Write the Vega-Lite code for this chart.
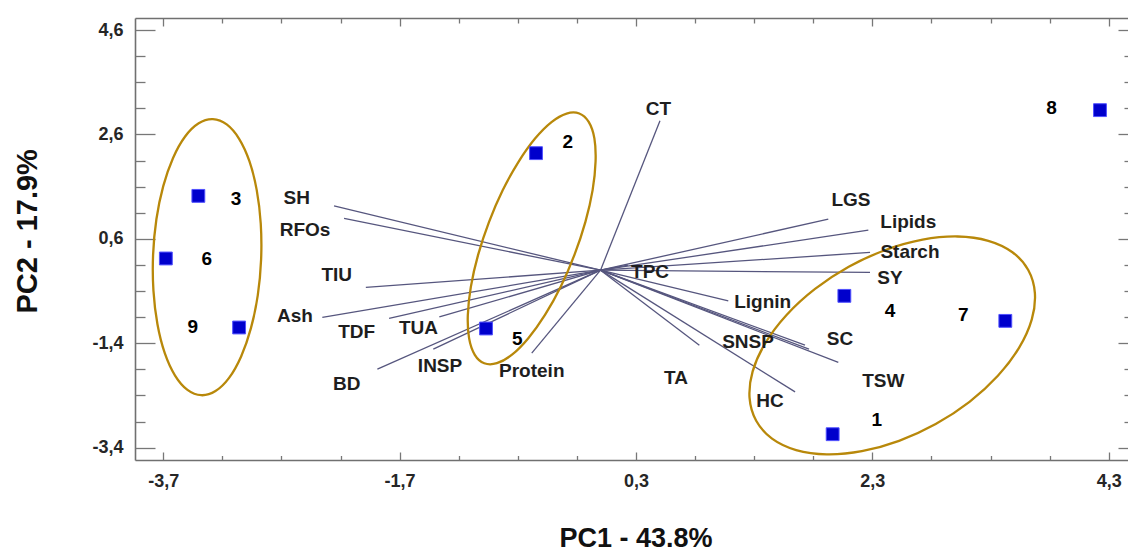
{
  "$schema": "https://vega.github.io/schema/vega-lite/v6.json",
  "width": 993,
  "height": 442,
  "autosize": {"type": "none"},
  "padding": {"left": 135, "top": 18, "right": 0, "bottom": 91},
  "config": {
    "view": {"stroke": null},
    "axis": {
      "labelFont": "Liberation Sans",
      "labelFontWeight": "bold",
      "labelFontSize": 18,
      "labelColor": "#262626",
      "titleFont": "Liberation Sans",
      "titleFontWeight": "bold",
      "titleColor": "#111111",
      "domainColor": "#707070",
      "domainWidth": 1.6,
      "tickColor": "#777777",
      "tickWidth": 1.3,
      "grid": false,
      "labelFlush": false
    }
  },
  "datasets": {
    "vars": [
      {"v": "SH", "x": -2.255, "y": 1.232, "lx": -2.57, "ly": 1.374},
      {"v": "RFOs", "x": -2.17, "y": 0.99, "lx": -2.5, "ly": 0.772},
      {"v": "TIU", "x": -1.986, "y": -0.331, "lx": -2.232, "ly": -0.096},
      {"v": "Ash", "x": -2.354, "y": -0.906, "lx": -2.585, "ly": -0.875},
      {"v": "TDF", "x": -1.789, "y": -0.925, "lx": -2.063, "ly": -1.193},
      {"v": "TUA", "x": -1.364, "y": -0.895, "lx": -1.541, "ly": -1.117},
      {"v": "INSP", "x": -1.415, "y": -1.513, "lx": -1.358, "ly": -1.833},
      {"v": "BD", "x": -1.888, "y": -1.897, "lx": -2.147, "ly": -2.184},
      {"v": "Protein", "x": -0.582, "y": -1.59, "lx": -0.582, "ly": -1.929},
      {"v": "CT", "x": 0.503, "y": 2.86, "lx": 0.489, "ly": 3.084},
      {"v": "LGS", "x": 1.927, "y": 0.977, "lx": 2.119, "ly": 1.347},
      {"v": "Lipids", "x": 2.266, "y": 0.766, "lx": 2.604, "ly": 0.914},
      {"v": "Starch", "x": 2.28, "y": 0.339, "lx": 2.618, "ly": 0.339},
      {"v": "SY", "x": 2.28, "y": -0.044, "lx": 2.449, "ly": -0.159},
      {"v": "TPC", "x": 0.233, "y": 0.096, "lx": 0.419, "ly": -0.033},
      {"v": "Lignin", "x": 1.081, "y": -0.588, "lx": 1.372, "ly": -0.607},
      {"v": "SNSP", "x": 1.73, "y": -1.437, "lx": 1.248, "ly": -1.379},
      {"v": "SC", "x": 1.764, "y": -1.513, "lx": 2.026, "ly": -1.322},
      {"v": "TSW", "x": 2.012, "y": -1.768, "lx": 2.393, "ly": -2.121},
      {"v": "HC", "x": 1.646, "y": -2.331, "lx": 1.434, "ly": -2.504},
      {"v": "TA", "x": 0.836, "y": -1.437, "lx": 0.639, "ly": -2.056}
    ],
    "pts": [
      {"id": "1", "x": 1.964, "y": -3.142, "lx": 2.337, "ly": -2.874},
      {"id": "2", "x": -0.546, "y": 2.241, "lx": -0.277, "ly": 2.446},
      {"id": "3", "x": -3.403, "y": 1.423, "lx": -3.084, "ly": 1.36},
      {"id": "4", "x": 2.063, "y": -0.492, "lx": 2.449, "ly": -0.791},
      {"id": "5", "x": -0.969, "y": -1.117, "lx": -0.704, "ly": -1.322},
      {"id": "6", "x": -3.678, "y": 0.224, "lx": -3.332, "ly": 0.211},
      {"id": "7", "x": 3.425, "y": -0.971, "lx": 3.069, "ly": -0.862},
      {"id": "8", "x": 4.226, "y": 3.065, "lx": 3.817, "ly": 3.098},
      {"id": "9", "x": -3.058, "y": -1.098, "lx": -3.45, "ly": -1.086}
    ],
    "ell": [
      {"g": "A", "i": 0, "x": -2.872, "y": 0.205},
      {"g": "A", "i": 1, "x": -2.875, "y": 0.891},
      {"g": "A", "i": 2, "x": -2.909, "y": 1.533},
      {"g": "A", "i": 3, "x": -2.971, "y": 2.087},
      {"g": "A", "i": 4, "x": -3.058, "y": 2.516},
      {"g": "A", "i": 5, "x": -3.163, "y": 2.791},
      {"g": "A", "i": 6, "x": -3.28, "y": 2.893},
      {"g": "A", "i": 7, "x": -3.4, "y": 2.814},
      {"g": "A", "i": 8, "x": -3.515, "y": 2.561},
      {"g": "A", "i": 9, "x": -3.617, "y": 2.15},
      {"g": "A", "i": 10, "x": -3.7, "y": 1.609},
      {"g": "A", "i": 11, "x": -3.758, "y": 0.976},
      {"g": "A", "i": 12, "x": -3.786, "y": 0.293},
      {"g": "A", "i": 13, "x": -3.783, "y": -0.393},
      {"g": "A", "i": 14, "x": -3.749, "y": -1.035},
      {"g": "A", "i": 15, "x": -3.687, "y": -1.589},
      {"g": "A", "i": 16, "x": -3.6, "y": -2.018},
      {"g": "A", "i": 17, "x": -3.495, "y": -2.293},
      {"g": "A", "i": 18, "x": -3.378, "y": -2.395},
      {"g": "A", "i": 19, "x": -3.258, "y": -2.316},
      {"g": "A", "i": 20, "x": -3.143, "y": -2.063},
      {"g": "A", "i": 21, "x": -3.041, "y": -1.652},
      {"g": "A", "i": 22, "x": -2.958, "y": -1.111},
      {"g": "A", "i": 23, "x": -2.9, "y": -0.478},
      {"g": "B", "i": 0, "x": -0.18, "y": 3.001},
      {"g": "B", "i": 1, "x": -0.1, "y": 2.839},
      {"g": "B", "i": 2, "x": -0.052, "y": 2.524},
      {"g": "B", "i": 3, "x": -0.042, "y": 2.08},
      {"g": "B", "i": 4, "x": -0.067, "y": 1.534},
      {"g": "B", "i": 5, "x": -0.128, "y": 0.926},
      {"g": "B", "i": 6, "x": -0.22, "y": 0.297},
      {"g": "B", "i": 7, "x": -0.336, "y": -0.312},
      {"g": "B", "i": 8, "x": -0.47, "y": -0.857},
      {"g": "B", "i": 9, "x": -0.611, "y": -1.303},
      {"g": "B", "i": 10, "x": -0.749, "y": -1.619},
      {"g": "B", "i": 11, "x": -0.877, "y": -1.782},
      {"g": "B", "i": 12, "x": -0.984, "y": -1.783},
      {"g": "B", "i": 13, "x": -1.064, "y": -1.621},
      {"g": "B", "i": 14, "x": -1.112, "y": -1.306},
      {"g": "B", "i": 15, "x": -1.123, "y": -0.862},
      {"g": "B", "i": 16, "x": -1.097, "y": -0.316},
      {"g": "B", "i": 17, "x": -1.036, "y": 0.292},
      {"g": "B", "i": 18, "x": -0.944, "y": 0.921},
      {"g": "B", "i": 19, "x": -0.828, "y": 1.53},
      {"g": "B", "i": 20, "x": -0.694, "y": 2.075},
      {"g": "B", "i": 21, "x": -0.554, "y": 2.521},
      {"g": "B", "i": 22, "x": -0.415, "y": 2.837},
      {"g": "B", "i": 23, "x": -0.287, "y": 3.0},
      {"g": "C", "i": 0, "x": 3.619, "y": 0.003},
      {"g": "C", "i": 1, "x": 3.675, "y": -0.436},
      {"g": "C", "i": 2, "x": 3.649, "y": -0.943},
      {"g": "C", "i": 3, "x": 3.542, "y": -1.484},
      {"g": "C", "i": 4, "x": 3.362, "y": -2.023},
      {"g": "C", "i": 5, "x": 3.122, "y": -2.522},
      {"g": "C", "i": 6, "x": 2.836, "y": -2.947},
      {"g": "C", "i": 7, "x": 2.526, "y": -3.269},
      {"g": "C", "i": 8, "x": 2.211, "y": -3.467},
      {"g": "C", "i": 9, "x": 1.914, "y": -3.527},
      {"g": "C", "i": 10, "x": 1.655, "y": -3.445},
      {"g": "C", "i": 11, "x": 1.451, "y": -3.226},
      {"g": "C", "i": 12, "x": 1.317, "y": -2.885},
      {"g": "C", "i": 13, "x": 1.261, "y": -2.447},
      {"g": "C", "i": 14, "x": 1.287, "y": -1.939},
      {"g": "C", "i": 15, "x": 1.394, "y": -1.398},
      {"g": "C", "i": 16, "x": 1.574, "y": -0.859},
      {"g": "C", "i": 17, "x": 1.815, "y": -0.36},
      {"g": "C", "i": 18, "x": 2.1, "y": 0.065},
      {"g": "C", "i": 19, "x": 2.411, "y": 0.387},
      {"g": "C", "i": 20, "x": 2.725, "y": 0.585},
      {"g": "C", "i": 21, "x": 3.022, "y": 0.645},
      {"g": "C", "i": 22, "x": 3.281, "y": 0.563},
      {"g": "C", "i": 23, "x": 3.485, "y": 0.344}
    ]
  },
  "layer": [
    {
      "data": {"name": "vars"},
      "mark": {"type": "rule", "stroke": "#56567e", "strokeWidth": 1.3},
      "encoding": {
        "x": {
          "field": "x", "type": "quantitative",
          "scale": {"domain": [-3.939, 4.463], "nice": false, "zero": false},
          "axis": {
            "orient": "bottom", "values": [-3.7, -1.7, 0.3, 2.3, 4.3], "ticks": false,
            "labelPadding": 12, "labelExpr": "replace(toString(datum.value), '.', ',')",
            "title": "PC1 - 43.8%", "titleFontSize": 27, "titleX": 500.5, "titleY": 86,
            "titleAlign": "center", "titleBaseline": "alphabetic"
          }
        },
        "y": {
          "field": "y", "type": "quantitative",
          "scale": {"domain": [-3.636, 4.83], "nice": false, "zero": false},
          "axis": {
            "orient": "left", "values": [-3.4, -1.4, 0.6, 2.6, 4.6], "ticks": false,
            "labelPadding": 12, "labelExpr": "replace(toString(datum.value), '.', ',')",
            "title": "PC2 - 17.9%", "titleFontSize": 29, "titleX": -98.3, "titleY": 212.8,
            "titleAngle": 270, "titleAlign": "center", "titleBaseline": "alphabetic"
          }
        },
        "x2": {"datum": 0},
        "y2": {"datum": 0}
      }
    },
    {
      "data": {"name": "ell"},
      "mark": {"type": "line", "interpolate": "cardinal-closed", "stroke": "#B8880A", "strokeWidth": 2.3},
      "encoding": {
        "x": {
          "field": "x", "type": "quantitative",
          "scale": {"domain": [-3.939, 4.463], "nice": false, "zero": false},
          "axis": {"orient": "bottom", "values": [-3.7, -1.7, 0.3, 2.3, 4.3], "labels": false, "domain": false, "tickSize": -8, "title": null}
        },
        "y": {
          "field": "y", "type": "quantitative",
          "scale": {"domain": [-3.636, 4.83], "nice": false, "zero": false},
          "axis": {"orient": "left", "values": [-3.4, -1.4, 0.6, 2.6, 4.6], "labels": false, "domain": false, "tickSize": -20, "title": null}
        },
        "detail": {"field": "g"},
        "order": {"field": "i", "type": "quantitative"}
      }
    },
    {
      "data": {"name": "pts"},
      "mark": {"type": "square", "size": 165, "fill": "#0000CC", "stroke": "#5050ff", "strokeWidth": 1, "opacity": 1},
      "encoding": {
        "x": {
          "field": "x", "type": "quantitative",
          "scale": {"domain": [-3.939, 4.463], "nice": false, "zero": false},
          "axis": {"orient": "bottom", "values": [-3.2, -2.7, -2.2, -1.2, -0.7, -0.2, 0.8, 1.3, 1.8, 2.8, 3.3, 3.8], "labels": false, "domain": false, "tickSize": -4.5, "title": null}
        },
        "y": {
          "field": "y", "type": "quantitative",
          "scale": {"domain": [-3.636, 4.83], "nice": false, "zero": false},
          "axis": {"orient": "left", "values": [-2.9, -2.4, -1.9, -0.9, -0.4, 0.1, 1.1, 1.6, 2.1, 3.1, 3.6, 4.1], "labels": false, "domain": false, "tickSize": -10, "title": null}
        }
      }
    },
    {
      "data": {"name": "vars"},
      "mark": {"type": "text", "font": "Liberation Sans", "fontWeight": "bold", "fontSize": 19, "fill": "#1e1e1e", "align": "center", "baseline": "middle"},
      "encoding": {
        "x": {
          "field": "lx", "type": "quantitative",
          "scale": {"domain": [-3.939, 4.463], "nice": false, "zero": false},
          "axis": {"orient": "top", "values": [-3.7, -1.7, 0.3, 2.3, 4.3], "labels": false, "domain": true, "tickSize": -8, "title": null}
        },
        "y": {
          "field": "ly", "type": "quantitative",
          "scale": {"domain": [-3.636, 4.83], "nice": false, "zero": false},
          "axis": {"orient": "right", "values": [-3.4, -1.4, 0.6, 2.6, 4.6], "labels": false, "domain": false, "tickSize": -10, "title": null}
        },
        "text": {"field": "v"}
      }
    },
    {
      "data": {"name": "pts"},
      "mark": {"type": "text", "font": "Liberation Sans", "fontWeight": "bold", "fontSize": 19, "fill": "#000000", "align": "center", "baseline": "middle"},
      "encoding": {
        "x": {
          "field": "lx", "type": "quantitative",
          "scale": {"domain": [-3.939, 4.463], "nice": false, "zero": false},
          "axis": {"orient": "top", "values": [-3.2, -2.7, -2.2, -1.2, -0.7, -0.2, 0.8, 1.3, 1.8, 2.8, 3.3, 3.8], "labels": false, "domain": false, "tickSize": -5, "title": null}
        },
        "y": {
          "field": "ly", "type": "quantitative",
          "scale": {"domain": [-3.636, 4.83], "nice": false, "zero": false},
          "axis": {"orient": "right", "values": [-2.9, -2.4, -1.9, -0.9, -0.4, 0.1, 1.1, 1.6, 2.1, 3.1, 3.6, 4.1], "labels": false, "domain": false, "tickSize": -4, "title": null}
        },
        "text": {"field": "id"}
      }
    }
  ],
  "resolve": {"axis": {"x": "independent", "y": "independent"}}
}
